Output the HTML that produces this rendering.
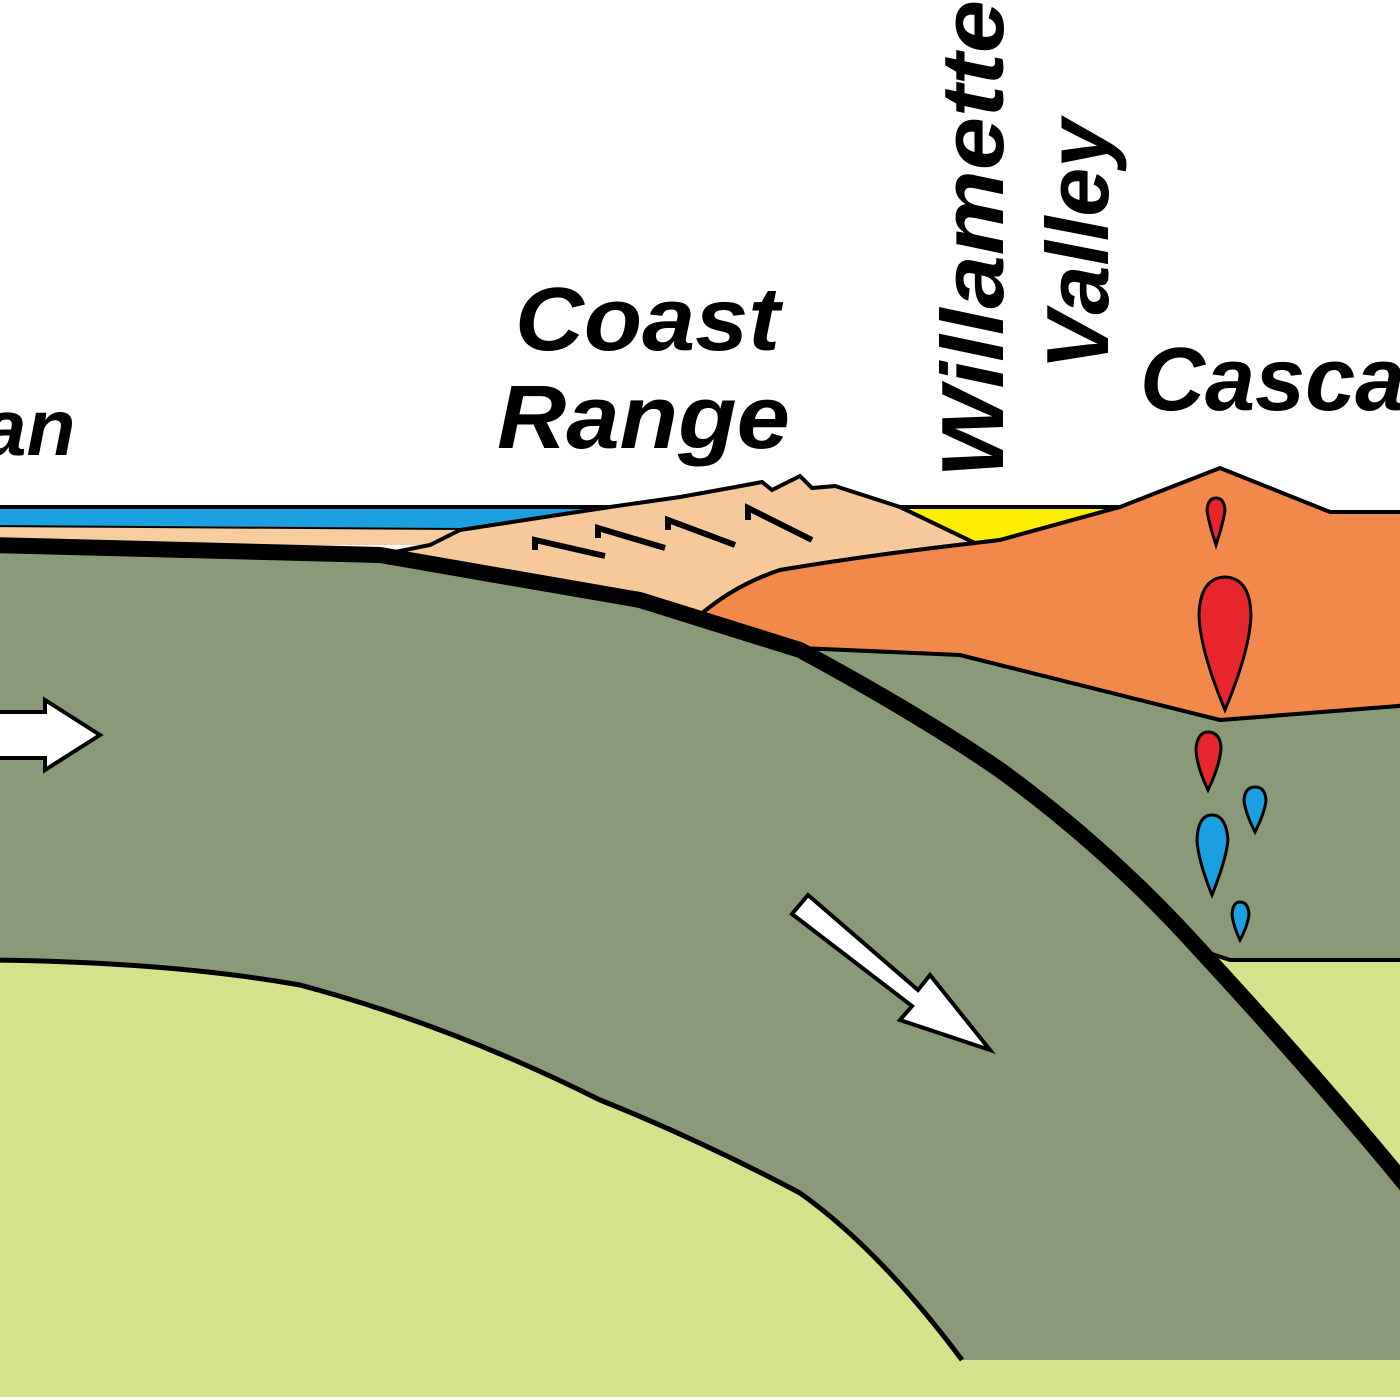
<!DOCTYPE html>
<html><head><meta charset="utf-8"><style>
html,body{margin:0;padding:0;background:#fff;}
svg{display:block}
text{font-family:"Liberation Sans",sans-serif;font-weight:bold;font-style:italic;fill:#000}
</style></head><body>
<svg width="1400" height="1400" viewBox="0 0 1400 1400" xmlns="http://www.w3.org/2000/svg">
<rect width="1400" height="1400" fill="#fff"/>
<rect x="0" y="940" width="1400" height="457" fill="#d4e28b"/>
<!-- slab green -->
<path d="M-10,545 L380,555 L640,600 L800,650 Q920,715 1000,770 Q1110,850 1200,950 Q1320,1080 1410,1180 L1410,1360 L962,1360 Q880,1250 800,1193 Q700,1140 600,1100 Q450,1025 300,985 Q170,962 -10,960 Z" fill="#8a9a78"/>
<path d="M-10,960 Q170,962 300,985 Q450,1025 600,1100 Q700,1140 800,1193 Q880,1250 962,1360" fill="none" stroke="#000" stroke-width="5"/>
<!-- mantle wedge -->
<path d="M800,645 L960,655 L1220,720 L1410,705 L1410,960 L1230,960 L1200,950 Q1110,850 1000,770 Q920,715 800,650 Z" fill="#8a9a78" stroke="#000" stroke-width="4"/>
<!-- water -->
<path d="M-10,507 L610,507 L560,520 L460,530 L-10,527 Z" fill="#1aa0e0" stroke="#000" stroke-width="4"/>
<path d="M-10,527 L460,530 L430,545 L-10,545 Z" fill="#f7cc9e"/>
<!-- wedge -->
<path d="M430,545 L460,530 L610,507 L680,497 L730,488 L762,482 L772,490 L800,476 L812,488 L835,486 L900,507 L975,543 Q870,555 780,570 Q735,585 700,615 L640,600 L380,555 Z" fill="#f7c99a" stroke="#000" stroke-width="4"/>
<!-- yellow -->
<path d="M900,507 L1120,507 L1000,540 L975,543 Z" fill="#ffee00" stroke="#000" stroke-width="4"/>
<!-- orange -->
<path d="M975,543 L1000,540 L1120,507 L1220,468 L1330,512 L1410,512 L1410,705 L1220,720 L960,655 L800,648 L700,615 Q735,585 780,570 Q870,555 975,543 Z" fill="#f2884a" stroke="#000" stroke-width="4"/>
<!-- slab top black -->
<path d="M-10,545 L380,555 L640,600 L800,650 Q920,715 1000,770 Q1110,850 1200,950 Q1320,1080 1410,1190" fill="none" stroke="#000" stroke-width="16"/>
<!-- thrust marks -->
<g stroke="#000" stroke-width="6" fill="none">
<path d="M535,550 L535,540 L605,556"/>
<path d="M598,538 L598,528 L665,548"/>
<path d="M668,530 L668,520 L735,545"/>
<path d="M748,520 L748,508 L812,540"/>
</g>
<!-- magma drops -->
<g stroke="#000" stroke-width="3">
<path d="M1216,545 Q1208,520 1207,510 Q1208,498 1216,498 Q1224,498 1225,510 Q1224,520 1216,545Z" fill="#e8262b"/>
<path d="M1225,710 Q1200,650 1199,615 Q1200,578 1225,577 Q1250,578 1251,615 Q1250,650 1225,710Z" fill="#e8262b"/>
<path d="M1208,790 Q1196,765 1196,748 Q1198,732 1208,732 Q1220,732 1221,748 Q1220,765 1208,790Z" fill="#e8262b"/>
<path d="M1255,832 Q1245,812 1244,800 Q1245,787 1255,787 Q1265,787 1266,800 Q1265,812 1255,832Z" fill="#1aa0e0"/>
<path d="M1212,895 Q1198,860 1197,840 Q1198,815 1212,815 Q1226,815 1228,840 Q1226,860 1212,895Z" fill="#1aa0e0"/>
<path d="M1240,940 Q1233,925 1232,914 Q1233,902 1240,902 Q1248,902 1249,914 Q1248,925 1240,940Z" fill="#1aa0e0"/>
</g>
<!-- arrows -->
<path d="M-10,712 L45,712 L45,700 L100,735 L45,770 L45,758 L-10,758 Z" fill="#fff" stroke="#000" stroke-width="4"/>
<path d="M808,895 L918,990 L930,975 L990,1050 L900,1020 L912,1006 L792,914 Z" fill="#fff" stroke="#000" stroke-width="4"/>
<!-- labels -->
<text x="-18" y="455" font-size="80">an</text>
<text x="515" y="350" font-size="90" textLength="265" lengthAdjust="spacingAndGlyphs">Coast</text>
<text x="497" y="448" font-size="90" textLength="293" lengthAdjust="spacingAndGlyphs">Range</text>
<text x="1140" y="410" font-size="90">Cascades</text>
<text transform="translate(1003,478) rotate(-90)" font-size="88" textLength="478" lengthAdjust="spacingAndGlyphs">Willamette</text>
<text transform="translate(1108,370) rotate(-90)" font-size="88">Valley</text>
</svg>
</body></html>
